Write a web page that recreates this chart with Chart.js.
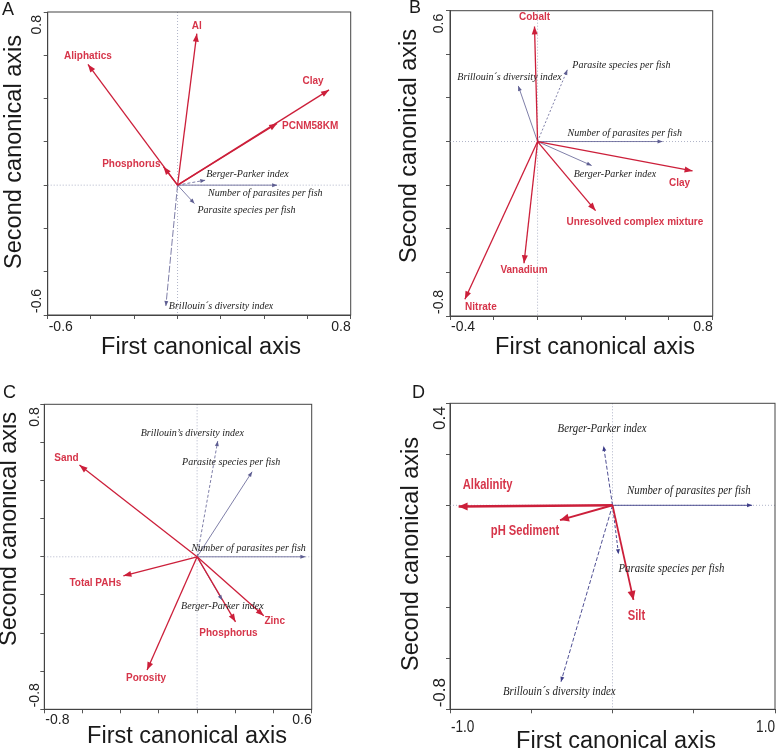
<!DOCTYPE html>
<html>
<head>
<meta charset="utf-8">
<script src="https://cdn.jsdelivr.net/npm/chart.js@4.4.1/dist/chart.umd.min.js"></script>
<style>
  body { margin: 0; background: #fff; }
  #wrap { position: relative; width: 776px; height: 750px; }
  canvas { position: absolute; left: 0; top: 0; }
</style>
</head>
<body>
<div id="wrap">
  <canvas id="chartA" width="776" height="750"></canvas>
  <canvas id="chartB" width="776" height="750"></canvas>
  <canvas id="chartC" width="776" height="750"></canvas>
  <canvas id="chartD" width="776" height="750"></canvas>
</div>
<script>
// ---- Panel A ----
const aEnvNames = ['Al', 'Aliphatics', 'Clay', 'PCNM58KM', 'Phosphorus'];
const aEnvX = [0.089, -0.414, 0.70, 0.46, -0.065];
const aEnvY = [0.70, 0.558, 0.44, 0.285, 0.085];
const aSpNames = ['Berger-Parker index', 'Number of parasites per fish', 'Parasite species per fish', 'Brillouin´s diversity index'];
const aSpX = [0.128, 0.46, 0.078, -0.054];
const aSpY = [0.023, 0, -0.085, -0.558];
const aRangeX = [-0.6, 0.8];
const aRangeY = [-0.6, 0.8];
const aTicksX = ['-0.6', '0.8'];
const aTicksY = ['-0.6', '0.8'];

// ---- Panel B ----
const bEnvNames = ['Cobalt', 'Clay', 'Unresolved complex mixture', 'Vanadium', 'Nitrate'];
const bEnvX = [-0.014, 0.708, 0.265, -0.062, -0.332];
const bEnvY = [0.528, -0.135, -0.317, -0.558, -0.723];
const bSpNames = ['Parasite species per fish', 'Brillouin´s diversity index', 'Number of parasites per fish', 'Berger-Parker index'];
const bSpX = [0.136, -0.088, 0.571, 0.247];
const bSpY = [0.329, 0.255, 0, -0.110];
const bRangeX = [-0.4, 0.8];
const bRangeY = [-0.8, 0.6];
const bTicksX = ['-0.4', '0.8'];
const bTicksY = ['-0.8', '0.6'];

// ---- Panel C ----
const cEnvNames = ['Sand', 'Total PAHs', 'Phosphorus', 'Zinc', 'Porosity'];
const cEnvX = [-0.616, -0.386, 0.201, 0.349, -0.262];
const cEnvY = [0.481, -0.100, -0.341, -0.309, -0.594];
const cSpNames = ['Brillouin’s diversity index', 'Parasite species per fish', 'Number of parasites per fish', 'Berger-Parker index'];
const cSpX = [0.108, 0.288, 0.567, 0.131];
const cSpY = [0.607, 0.446, 0, -0.227];
const cRangeX = [-0.8, 0.6];
const cRangeY = [-0.8, 0.8];
const cTicksX = ['-0.8', '0.6'];
const cTicksY = ['-0.8', '0.8'];

// ---- Panel D ----
const dEnvNames = ['Alkalinity', 'pH Sediment', 'Silt'];
const dEnvX = [-0.947, -0.323, 0.129];
const dEnvY = [-0.005, -0.058, -0.371];
const dSpNames = ['Berger-Parker index', 'Number of parasites per fish', 'Parasite species per fish', 'Brillouin´s diversity index'];
const dSpX = [-0.055, 0.859, 0.037, -0.317];
const dSpY = [0.233, 0, -0.192, -0.692];
const dRangeX = [-1.0, 1.0];
const dRangeY = [-0.8, 0.4];
const dTicksX = ['-1.0', '1.0'];
const dTicksY = ['-0.8', '0.4'];

const RED = '#cc1f3a';
const RED_TEXT = '#d6354a';
const BLUE = '#5e5e92';

// text with optional horizontal squeeze (panel D uses a condensed look)
function squeezedText(ctx, text, x, y, sx) {
  ctx.save();
  ctx.translate(x, y);
  ctx.scale(sx || 1, 1);
  ctx.fillText(text, 0, 0);
  ctx.restore();
}

// draws arrowheads, labels, frame, tick labels and titles
const biplot = {
  id: 'biplot',
  beforeDatasetsDraw(chart) {
    const { ctx, chartArea: a, scales: { x, y } } = chart;
    const x0 = x.getPixelForValue(0), y0 = y.getPixelForValue(0);
    ctx.save();
    ctx.strokeStyle = '#b0b4c8';
    ctx.lineWidth = 1;
    ctx.setLineDash([1, 2]);
    ctx.beginPath();
    ctx.moveTo(a.left, y0); ctx.lineTo(a.right, y0);
    ctx.moveTo(x0, a.top); ctx.lineTo(x0, a.bottom);
    ctx.stroke();
    ctx.restore();
  },
  afterDatasetsDraw(chart) {
    const ctx = chart.ctx;
    chart.data.datasets.forEach((ds, i) => {
      const pts = chart.getDatasetMeta(i).data;
      const p0 = pts[0], p1 = pts[1];
      const ang = Math.atan2(p1.y - p0.y, p1.x - p0.x);
      const L = ds.headLen, W = ds.headW;
      ctx.save();
      ctx.translate(p1.x, p1.y);
      ctx.rotate(ang);
      ctx.fillStyle = ds.borderColor;
      ctx.beginPath();
      ctx.moveTo(0, 0);
      ctx.lineTo(-L, W);
      ctx.lineTo(-L, -W);
      ctx.closePath();
      ctx.fill();
      ctx.restore();

      ctx.save();
      ctx.font = ds.labelFont;
      ctx.fillStyle = ds.labelColor;
      ctx.textAlign = ds.labelPos[2];
      ctx.textBaseline = 'middle';
      squeezedText(ctx, ds.label, p1.x + ds.labelPos[0], p1.y + ds.labelPos[1], ds.labelSqueeze);
      ctx.restore();
    });
  },
  afterDraw(chart, args, o) {
    const { ctx, chartArea: a } = chart;
    ctx.save();
    ctx.strokeStyle = '#444';
    ctx.lineWidth = 1;
    ctx.strokeRect(a.left, a.top, a.right - a.left, a.bottom - a.top);

    ctx.fillStyle = '#222';
    ctx.font = o.tickFont;
    ctx.textBaseline = 'middle';
    ctx.textAlign = 'left';
    squeezedText(ctx, o.ticksX[0], a.left + 1, a.bottom + o.tickGapX, o.tickSqueeze);
    ctx.textAlign = 'right';
    squeezedText(ctx, o.ticksX[1], a.right, a.bottom + o.tickGapX, o.tickSqueeze);

    ctx.font = o.tickFontY || o.tickFont;
    ctx.save();
    ctx.translate(a.left - o.tickGapY, a.top + 3);
    ctx.rotate(-Math.PI / 2);
    ctx.textAlign = 'right';
    ctx.fillText(o.ticksY[1], 0, 0);
    ctx.restore();
    ctx.save();
    ctx.translate(a.left - o.tickGapY, a.bottom - 2);
    ctx.rotate(-Math.PI / 2);
    ctx.textAlign = 'left';
    ctx.fillText(o.ticksY[0], 0, 0);
    ctx.restore();

    ctx.fillStyle = '#1a1a1a';
    ctx.font = '23.5px "Liberation Sans", Arial, sans-serif';
    ctx.textAlign = 'center';
    ctx.fillText('First canonical axis', o.xTitle[0], o.xTitle[1]);
    ctx.save();
    ctx.translate(o.yTitle[0], o.yTitle[1]);
    ctx.rotate(-Math.PI / 2);
    ctx.fillText('Second canonical axis', 0, 0);
    ctx.restore();

    ctx.font = '18px "Liberation Sans", Arial, sans-serif';
    ctx.textAlign = 'left';
    ctx.textBaseline = 'alphabetic';
    ctx.fillText(o.letter, o.letterPos[0], o.letterPos[1]);
    ctx.restore();
  }
};

function vectors(names, xs, ys, style, pos, widths, dashes) {
  return names.map((name, i) => ({
    label: name,
    data: [{ x: 0, y: 0 }, { x: xs[i], y: ys[i] }],
    showLine: true,
    pointRadius: 0,
    borderColor: style.color,
    borderWidth: widths ? widths[i] : style.width,
    borderDash: dashes ? dashes[i] : [],
    headLen: style.headLen,
    headW: style.headW,
    labelFont: style.font,
    labelColor: style.textColor,
    labelSqueeze: style.squeeze,
    labelPos: pos[i]
  }));
}

function axis(range, step, horiz) {
  return {
    type: 'linear',
    min: range[0],
    max: range[1],
    afterFit: s => { if (horiz) s.height = 0; else s.width = 0; },
    ticks: { display: false, stepSize: step },
    grid: { drawOnChartArea: false, tickLength: 4, color: '#555' },
    border: { color: '#444', width: 1 }
  };
}

function makePanel(id, box, datasets, rx, ry, stepX, stepY, opts) {
  new Chart(document.getElementById(id), {
    type: 'scatter',
    data: { datasets },
    options: {
      responsive: false,
      animation: false,
      events: [],
      layout: { padding: { left: box.left, top: box.top, right: 776 - box.right, bottom: 750 - box.bottom } },
      scales: { x: axis(rx, stepX, true), y: axis(ry, stepY, false) },
      plugins: { legend: { display: false }, tooltip: { enabled: false }, biplot: opts }
    },
    plugins: [biplot]
  });
}

const envStyle = { color: RED, textColor: RED_TEXT, width: 1.3, headLen: 8, headW: 3, font: 'bold 10px "Liberation Sans", Arial, sans-serif' };
const spStyle = { color: BLUE, textColor: '#222', width: 0.8, headLen: 5, headW: 2, font: 'italic 10px "Liberation Serif", "Times New Roman", serif' };
const dEnvStyle = { color: RED, textColor: RED_TEXT, width: 2, headLen: 9, headW: 4, squeeze: 0.8, font: 'bold 14px "Liberation Sans", Arial, sans-serif' };
const dSpStyle = { color: '#3c3c88', textColor: '#222', width: 0.9, headLen: 5, headW: 2, squeeze: 0.83, font: 'italic 13px "Liberation Serif", "Times New Roman", serif' };

makePanel('chartA', { left: 47.7, right: 350.7, top: 12, bottom: 315 }, [
  ...vectors(aEnvNames, aEnvX, aEnvY, envStyle,
    [[0, -7, 'center'], [0, -8, 'center'], [-16, -9, 'center'], [5, 3, 'left'], [-3, -2, 'right']]),
  ...vectors(aSpNames, aSpX, aSpY, spStyle,
    [[1, -6, 'left'], [-69, 8, 'left'], [3, 7, 'left'], [3, 0, 'left']],
    null, [[3, 2], [], [], [7, 2]])
], aRangeX, aRangeY, 0.2, 0.2, {
  ticksX: aTicksX, ticksY: aTicksY, tickFont: '14px "Liberation Sans", Arial, sans-serif',
  tickGapX: 12, tickGapY: 11, xTitle: [201, 348], yTitle: [15, 152], letter: 'A', letterPos: [2, 15]
});

makePanel('chartB', { left: 450, right: 712.7, top: 10.7, bottom: 316 }, [
  ...vectors(bEnvNames, bEnvX, bEnvY, envStyle,
    [[0, -9, 'center'], [-13, 12, 'center'], [-29, 12, 'left'], [0, 7, 'center'], [16, 8, 'center']]),
  ...vectors(bSpNames, bSpX, bSpY, spStyle,
    [[5, -4, 'left'], [-61, -9, 'left'], [-95, -8, 'left'], [-18, 9, 'left']],
    null, [[2, 2], [], [], []])
], bRangeX, bRangeY, 0.2, 0.2, {
  ticksX: bTicksX, ticksY: bTicksY, tickFont: '14px "Liberation Sans", Arial, sans-serif',
  tickGapX: 11, tickGapY: 11, xTitle: [595, 348], yTitle: [410, 146], letter: 'B', letterPos: [409, 13]
});

makePanel('chartC', { left: 44.3, right: 311.7, top: 404.3, bottom: 709.3 }, [
  ...vectors(cEnvNames, cEnvX, cEnvY, envStyle,
    [[-13, -7, 'center'], [-28, 7, 'center'], [-7, 11, 'center'], [11, 6, 'center'], [-1, 8, 'center']]),
  ...vectors(cSpNames, cSpX, cSpY, spStyle,
    [[-77, -8, 'left'], [-70, -9, 'left'], [-114, -8, 'left'], [-41, 6, 'left']],
    null, [[3, 2], [], [], []])
], cRangeX, cRangeY, 0.2, 0.2, {
  ticksX: cTicksX, ticksY: cTicksY, tickFont: '14px "Liberation Sans", Arial, sans-serif',
  tickGapX: 11, tickGapY: 9, xTitle: [187, 737], yTitle: [10, 529], letter: 'C', letterPos: [3, 398]
});

makePanel('chartD', { left: 450, right: 775, top: 403.3, bottom: 709.3 }, [
  ...vectors(dEnvNames, dEnvX, dEnvY, dEnvStyle,
    [[29, -21, 'center'], [-35, 11, 'center'], [3, 16, 'center']], [2.6, 2, 1.8]),
  ...vectors(dSpNames, dSpX, dSpY, dSpStyle,
    [[-46, -17, 'left'], [-125, -15, 'left'], [0, 14, 'left'], [-58, 10, 'left']],
    null, [[4, 2], [], [3, 2], [4, 2]])
], dRangeX, dRangeY, 0.5, 0.2, {
  ticksX: dTicksX, ticksY: dTicksY, tickFont: '17px "Liberation Sans", Arial, sans-serif', tickSqueeze: 0.8,
  tickFontY: '17px "Liberation Sans", Arial, sans-serif',
  tickGapX: 18, tickGapY: 10, xTitle: [616, 742], yTitle: [412, 554], letter: 'D', letterPos: [412, 398]
});
</script>
</body>
</html>
